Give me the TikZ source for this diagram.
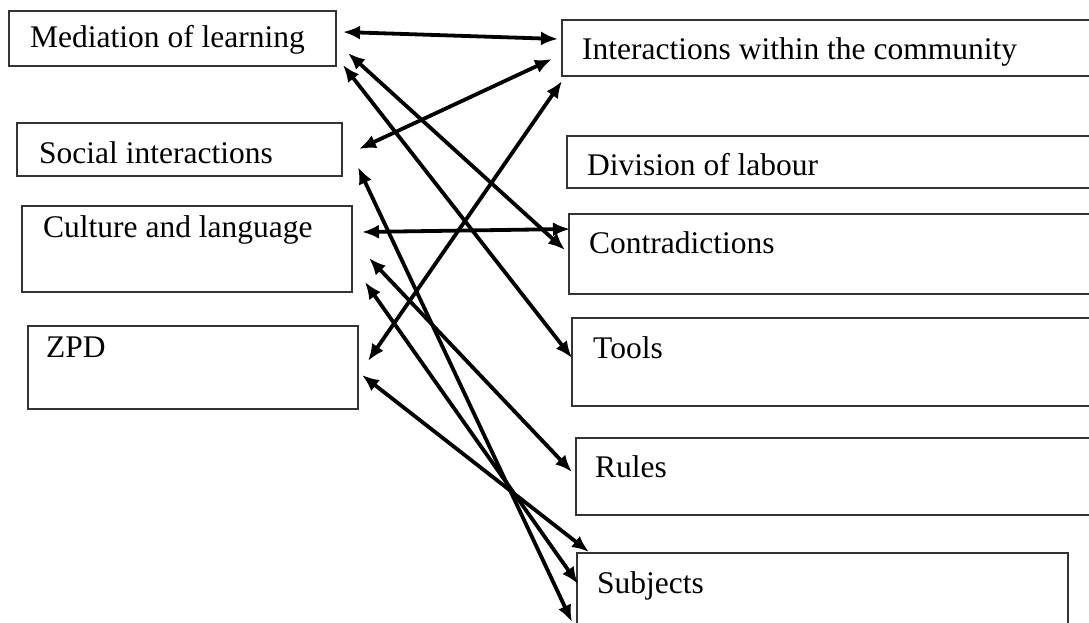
\documentclass[tikz,border=0pt]{standalone}
\usepackage{fontspec}
\setmainfont{Liberation Serif}
\usetikzlibrary{arrows.meta}
\begin{document}
\begin{tikzpicture}[x=1pt,y=-1pt,
  box/.style={draw=black!80,line width=1.2pt,rectangle,inner sep=0pt,outer sep=0pt,anchor=north west},
  lbl/.style={anchor=base west,inner sep=0pt,font=\fontsize{31.5}{37}\selectfont},
  link/.style={line width=3.8pt,{Latex[length=17pt,width=14pt]}-{Latex[length=17pt,width=14pt]}}]
\useasboundingbox (0,0) rectangle (1089,623);
\clip (0,0) rectangle (1089,623);
% left boxes
\node[box,minimum width=327pt,minimum height=55pt] (med) at (9,11) {};
\node[box,minimum width=325pt,minimum height=53pt] (soc) at (17,123) {};
\node[box,minimum width=330pt,minimum height=86pt] (cul) at (22,206) {};
\node[box,minimum width=330pt,minimum height=83pt] (zpd) at (28,326) {};
% right boxes
\node[box,minimum width=533pt,minimum height=56pt] (int) at (562,20) {};
\node[box,minimum width=528pt,minimum height=52pt] (div) at (567,136) {};
\node[box,minimum width=526pt,minimum height=80pt] (con) at (569,214) {};
\node[box,minimum width=523pt,minimum height=88pt] (too) at (572,318) {};
\node[box,minimum width=519pt,minimum height=77pt] (rul) at (576,438) {};
\node[box,minimum width=491pt,minimum height=87pt] (sub) at (577,553) {};
% labels
\node[lbl] (tmed) at (30,48) {Mediation of learning};
\node[lbl] (tsoc) at (39,163) {Social interactions};
\node[lbl] (tcul) at (43,237) {Culture and language};
\node[lbl] (tzpd) at (46,357) {ZPD};
\node[lbl] (tint) at (582,60) {Interactions within the community};
\node[lbl] (tdiv) at (587,175) {Division of labour};
\node[lbl] (tcon) at (589,253) {Contradictions};
\node[lbl] (ttoo) at (593,358) {Tools};
\node[lbl] (trul) at (595,477) {Rules};
\node[lbl] (tsub) at (597,593) {Subjects};
% connectors
\draw[link] ([shift={(7,21)}]med.north east) -- ([shift={(-4,19)}]int.north west);
\draw[link] ([shift={(12,42)}]med.north east) -- ([shift={(-4,36)}]con.north west);
\draw[link] ([shift={(7,54)}]med.north east) -- ([shift={(0,40)}]too.north west);
\draw[link] ([shift={(-10,39)}]int.north west) -- ([shift={(17,26)}]soc.north east);
\draw[link] ([shift={(0,61)}]int.north west) -- ([shift={(10,35)}]zpd.north east);
\draw[link] ([shift={(10,26)}]cul.north east) -- ([shift={(1,15)}]con.north west);
\draw[link] ([shift={(16,44)}]soc.north east) -- ([shift={(-5,69)}]sub.north west);
\draw[link] ([shift={(17,52)}]cul.north east) -- ([shift={(-4,34)}]rul.north west);
\draw[link] ([shift={(13,76)}]cul.north east) -- ([shift={(1,31)}]sub.north west);
\draw[link] ([shift={(4,49)}]zpd.north east) -- ([shift={(12,-1)}]sub.north west);
\end{tikzpicture}
\end{document}
